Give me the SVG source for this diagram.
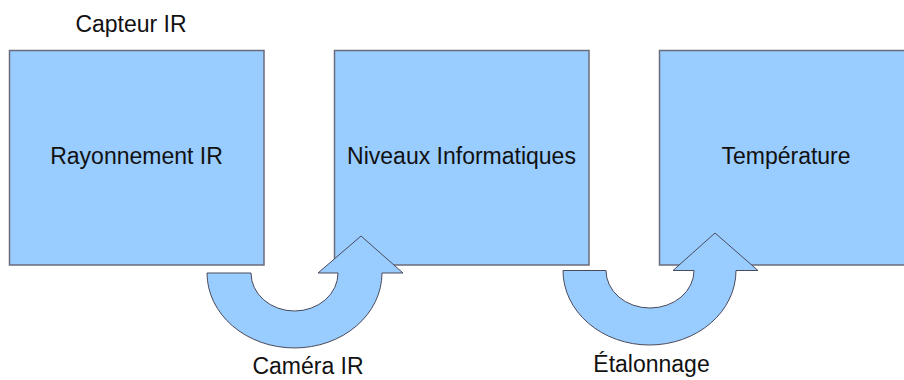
<svg xmlns="http://www.w3.org/2000/svg" width="904" height="380" viewBox="0 0 904 380">
<style>
.box{fill:#99ccff;stroke:#6b6b7b;stroke-width:1.5}
.arr{fill:#99ccff;stroke:#4a4a5a;stroke-width:1;stroke-linejoin:miter}
.t{font-family:"Liberation Sans",Arial,sans-serif;font-size:23px;fill:#111;text-anchor:middle}
</style>
<rect width="904" height="380" fill="#fff"/>
<text class="t" x="131" y="32">Capteur IR</text>
<g id="rayonnement">
<rect class="box" x="9.5" y="50.5" width="254.5" height="214.5"/>
<text class="t" x="136.5" y="164">Rayonnement IR</text>
</g>
<g id="niveaux">
<rect class="box" x="334.5" y="50.5" width="254.5" height="214.5"/>
<text class="t" x="461.5" y="164">Niveaux Informatiques</text>
</g>
<g id="temperature">
<rect class="box" x="659.5" y="50.5" width="254.5" height="214.5"/>
<text class="t" x="786" y="164">Température</text>
</g>
<g id="connectors">
<g id="camera">
<path class="arr" d="M207,273 L251,273 A43.5,38 0 0 0 338,273 L318,273 L361,236 L403,273 L382,273 A87.5,75 0 0 1 207,273 Z"/>
<text class="t" x="308" y="374">Caméra IR</text>
</g>
<g id="etalonnage">
<path class="arr" d="M563,270.5 L606,270.5 A44,37.5 0 0 0 694,270.5 L673,270.5 L715,233 L758,270.5 L736,270.5 A86.5,74.5 0 0 1 563,270.5 Z"/>
<text class="t" x="651.5" y="372">Étalonnage</text>
</g>
</g>
</svg>
